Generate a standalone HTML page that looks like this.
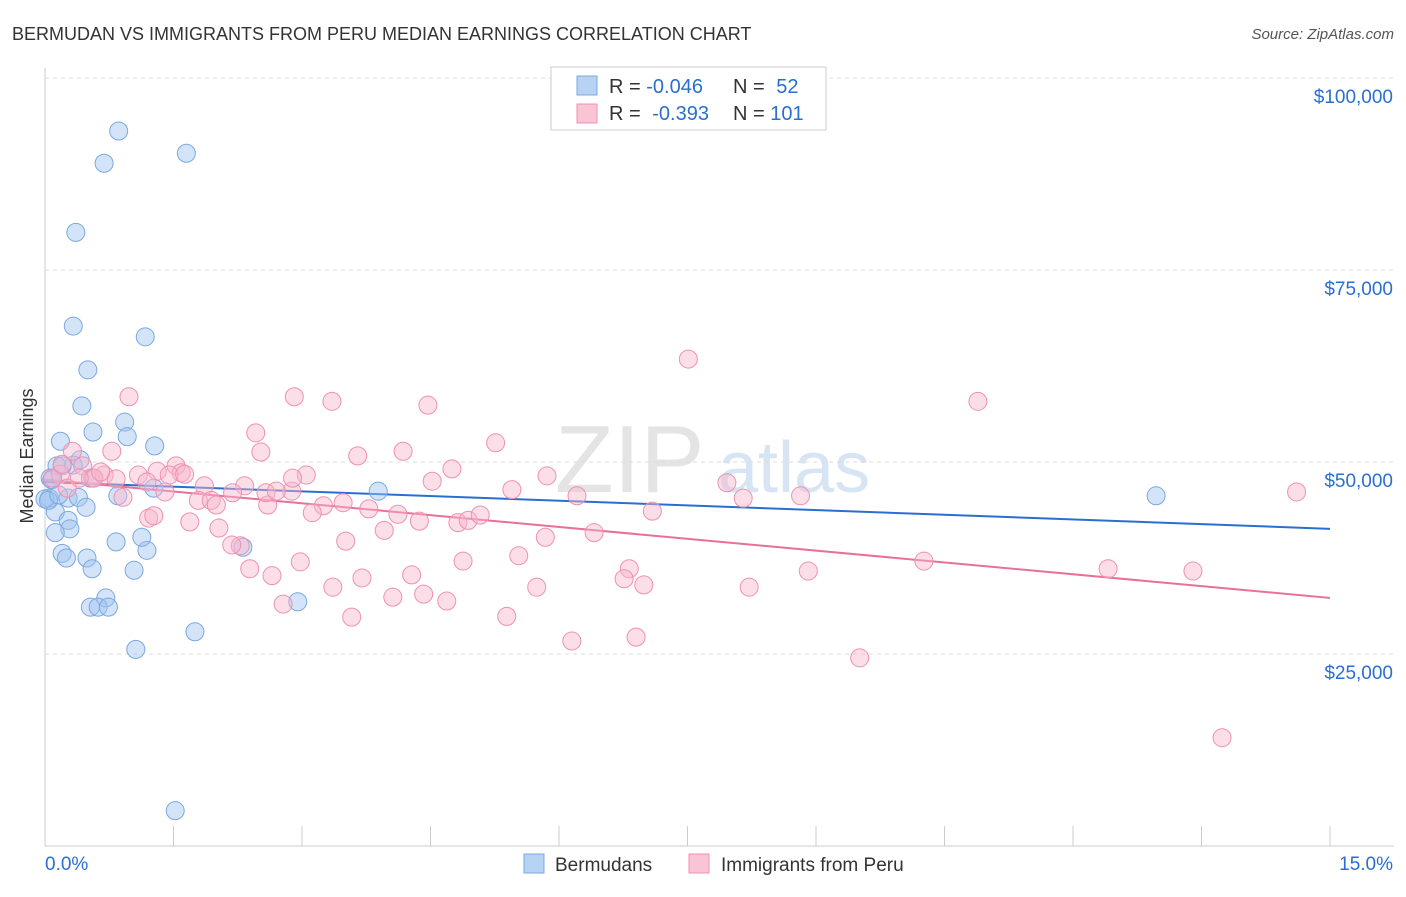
<!DOCTYPE html>
<html><head><meta charset="utf-8"><style>
body{margin:0;background:#fff;font-family:"Liberation Sans",sans-serif}
svg text{font-family:"Liberation Sans",sans-serif}
</style></head><body>
<svg id="chart" width="1406" height="892" xmlns="http://www.w3.org/2000/svg">
<text x="12" y="40" font-size="18" fill="#333">BERMUDAN VS IMMIGRANTS FROM PERU MEDIAN EARNINGS CORRELATION CHART</text>
<text x="1394" y="39" font-size="15" fill="#555" font-style="italic" text-anchor="end">Source: ZipAtlas.com</text>
<text x="33" y="456" font-size="18" fill="#333" text-anchor="middle" transform="rotate(-90 33 456)">Median Earnings</text>
<g><text x="555" y="492" font-size="96" fill="#e4e4e4" font-family="Liberation Serif">ZIP</text><text x="718" y="492" font-size="72" fill="#d6e4f4">atlas</text></g>
<g id="grid"></g><g id="axes"></g><g id="trends"></g><g id="points"></g>
<g>
<rect x="551" y="67" width="275" height="63" fill="#fff" stroke="#ccc"/>
<rect x="577" y="76" width="20" height="19" fill="#b8d2f4" stroke="#7aa8e0"/>
<rect x="577" y="104" width="20" height="19" fill="#f9c4d4" stroke="#f090b0"/>
<text x="609" y="93" font-size="20" fill="#333">R = <tspan fill="#2a6fd0">-0.046</tspan></text>
<text x="733" y="93" font-size="20" fill="#333">N = <tspan fill="#2a6fd0" dx="6">52</tspan></text>
<text x="609" y="120" font-size="20" fill="#333">R = <tspan fill="#2a6fd0" dx="6">-0.393</tspan></text>
<text x="733" y="120" font-size="20" fill="#333">N = <tspan fill="#2a6fd0">101</tspan></text>
</g>
<g>
<rect x="524" y="854" width="20" height="19" fill="#b8d2f4" stroke="#7aa8e0"/>
<text x="555" y="871" font-size="19" fill="#333">Bermudans</text>
<rect x="689" y="854" width="20" height="19" fill="#f9c4d4" stroke="#f090b0"/>
<text x="721" y="871" font-size="19" fill="#333">Immigrants from Peru</text>
</g>
</svg>
<script>
const yTicks=[25000,50000,75000,100000];
const yTickLabels=["$25,000","$50,000","$75,000","$100,000"];
const xTicks=[0,1.5,3,4.5,6,7.5,9,10.5,12,13.5,15];
const xEndLabels=["0.0%","15.0%"];
const blueX=[0.86,0.69,1.65,0.36,0.33,1.17,0.50,0.43,0.93,0.56,0.96,1.28,0.18,0.14,0.41,0.33,0.20,0.06,1.27,0.05,0.27,0.39,0.85,0.48,0.12,0.27,0.29,0.12,2.31,0.20,0.25,0.49,1.19,0.83,1.13,0.55,1.04,0.71,0.53,0.62,0.74,2.95,1.75,1.06,1.52,12.97,3.89,0.08,0,0.04,0.16,0.53];
const blueY=[93100,88900,90200,79900,67700,66300,62000,57300,55200,53900,53300,52100,52700,49500,50300,49600,49500,47900,46600,45300,45300,45400,45600,44100,43500,42400,41300,40800,38900,38100,37500,37500,38500,39600,40200,36100,35900,32300,31100,31100,31100,31800,27900,25600,4600,45600,46200,47700,45200,45000,45700,47900];
const pinkX=[7.51,10.89,0.98,2.91,3.35,4.47,2.46,5.26,2.52,4.18,3.65,0.32,0.78,4.75,5.86,1.53,0.44,0.18,0.56,0.69,1.09,1.31,1.59,3.05,4.52,7.96,1.45,1.86,2.33,2.88,5.45,6.21,8.82,14.61,8.15,2.19,0.91,1.40,0.57,0.09,1.79,1.94,2.00,2.60,3.25,3.48,3.78,4.12,4.37,4.82,4.94,5.08,7.09,2.58,3.12,3.96,1.69,2.03,1.21,1.27,3.51,5.84,6.41,2.28,5.53,4.88,2.98,2.39,2.65,6.82,8.91,10.26,12.41,13.40,3.70,4.28,3.36,4.06,4.42,4.69,5.74,6.76,6.99,8.22,2.78,5.39,3.58,6.15,6.90,9.51,13.74,0.40,0.26,0.83,1.19,1.63,0.20,0.65,2.18,2.70,2.89];
const pinkY=[63400,57900,58500,58500,57900,57400,53800,52500,51300,51400,50800,51400,51400,49100,48200,49500,49500,48400,47900,48300,48300,48800,48600,48300,47500,47300,48300,46900,46900,46200,46400,45600,45600,46100,45300,46000,45400,46100,47900,47900,45000,45000,44400,44400,44300,44700,43900,43200,42300,42100,42400,43100,43600,46000,43400,41100,42200,41400,42700,43000,39700,40200,40800,39100,37800,37100,37000,36100,35200,36100,35800,37100,36100,35800,34900,35300,33700,32400,32800,31900,33700,34800,34000,33700,31500,29900,29800,26700,27200,24500,14100,47900,46600,47800,47400,48400,49700,48700,39200,46200,47900];
const blueTrend=[47400,41300];
const pinkTrend=[47700,32300];
const NS="http://www.w3.org/2000/svg";
const xs=v=>45+v*(1330-45)/15;
const ys=v=>846-v*192/25000;
function mk(tag,attrs,parent){const e=document.createElementNS(NS,tag);for(const k in attrs)e.setAttribute(k,attrs[k]);parent.appendChild(e);return e;}
const grid=document.getElementById('grid'),axes=document.getElementById('axes'),trends=document.getElementById('trends'),pts=document.getElementById('points');
yTicks.forEach((t,i)=>{
 const l=mk('line',{x1:45,x2:1394,y1:ys(t),y2:ys(t),stroke:'#ddd','stroke-dasharray':'4 4'},grid);
 
 
 const tx=mk('text',{x:1393,y:ys(t)+25,'font-size':19,fill:'#2a6fd0','text-anchor':'end'},axes);
 tx.textContent=yTickLabels[i];
 
 
});
const topGrid=mk('line',{x1:45,x2:1394,y1:78,y2:78,stroke:'#ddd','stroke-dasharray':'4 4'},grid);


const ya=mk('line',{x1:45,x2:45,y1:68,y2:846,stroke:'#ccc'},axes);


const xa=mk('line',{x1:45,x2:1394,y1:846,y2:846,stroke:'#ccc'},axes);


xTicks.forEach(t=>{
 const l=mk('line',{x1:xs(t),x2:xs(t),y1:826,y2:846,stroke:'#ccc'},axes);
 
 
});
[[0,'start',xEndLabels[0]],[15,'end',xEndLabels[1]]].forEach(([v,a,s])=>{
 const tx=mk('text',{x:v===0?45:1393,y:870,'font-size':19,fill:'#2a6fd0','text-anchor':a},axes);
 tx.textContent=s;
 
 
});
blueX.forEach((x,i)=>{
 const c=mk('circle',{cx:xs(x),cy:ys(blueY[i]),r:9,fill:'rgba(160,196,240,0.45)',stroke:'#7aa8e0','stroke-width':1},pts);
 
 
});
pinkX.forEach((x,i)=>{
 const c=mk('circle',{cx:xs(x),cy:ys(pinkY[i]),r:9,fill:'rgba(248,182,204,0.45)',stroke:'#f090b0','stroke-width':1},pts);
 
 
});
const bt=mk('line',{x1:xs(0),x2:xs(15),y1:ys(blueTrend[0]),y2:ys(blueTrend[1]),stroke:'#2a6fd0','stroke-width':2},trends);


const pt=mk('line',{x1:xs(0),x2:xs(15),y1:ys(pinkTrend[0]),y2:ys(pinkTrend[1]),stroke:'#e8709a','stroke-width':2},trends);


</script>
</body></html>
